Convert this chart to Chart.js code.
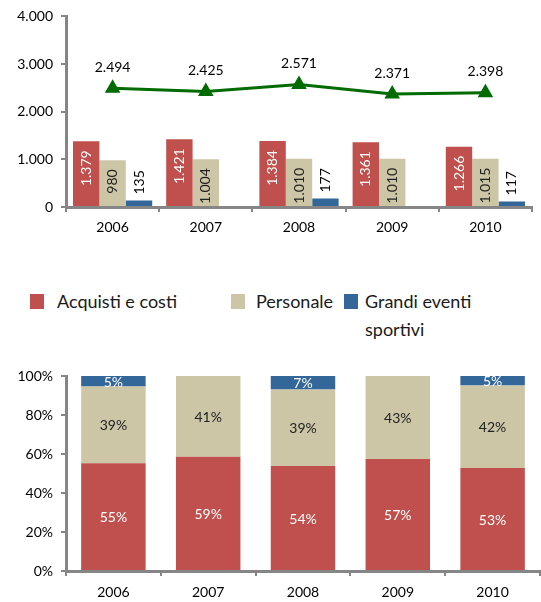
<!DOCTYPE html>
<html>
<head>
<meta charset="utf-8">
<script src="https://cdn.jsdelivr.net/npm/chart.js@4"></script>
<style>
  body { margin: 0; background: #fff; font-family: Lato, sans-serif; }
  #wrap { position: relative; width: 541px; height: 602px; overflow: hidden; }
  #alto { position: absolute; left: 0; top: 0; }
  #basso { position: absolute; left: 0; top: 355px; }
  .leg { position: absolute; font-size: 18px; color: #1a1a1a; line-height: 28px; top: 287px; }
  .sq { position: absolute; width: 14px; height: 15px; top: 294px; }
</style>
</head>
<body>
<div id="wrap">
  <canvas id="alto" width="541" height="245"></canvas>

  <div class="sq" style="left:30px;background:#C0504D"></div>
  <div class="leg" style="left:57px">Acquisti e costi</div>
  <div class="sq" style="left:231px;background:#CCC6A7"></div>
  <div class="leg" style="left:256px">Personale</div>
  <div class="sq" style="left:344px;background:#336699"></div>
  <div class="leg" style="left:365px">Grandi eventi<br>sportivi</div>

  <canvas id="basso" width="541" height="247"></canvas>
</div>

<script>
// dati (milioni)
const anni = ["2006", "2007", "2008", "2009", "2010"];
const acquisti = [1379, 1421, 1384, 1361, 1266];
const personale = [980, 1004, 1010, 1010, 1015];
const grandiEventi = [135, null, 177, null, 117];
const totale = [2494, 2425, 2571, 2371, 2398];

// quote percentuali (grafico 100%)
const quotaAcquisti = [55.3, 58.6, 53.8, 57.4, 52.8];
const quotaPersonale = [39.3, 41.4, 39.3, 42.6, 42.3];
const quotaEventi = [5.4, 0, 6.9, 0, 4.9];

const tickAlto = [0, 1000, 2000, 3000, 4000];

const ROSSO = "#C0504D";
const SABBIA = "#CCC6A7";
const BLU = "#336699";
const VERDE = "#006B00";
const GRIGIO = "#868686";

function migliaia(v) {
  return String(v).replace(/\B(?=(\d{3})+(?!\d))/g, ".");
}

// plugin per le etichette sui dati
const etichette = {
  id: "etichette",
  afterDatasetsDraw(chart) {
    const ctx = chart.ctx;
    chart.data.datasets.forEach((ds, i) => {
      const lbl = ds.lbl;
      if (!lbl) return;
      const meta = chart.getDatasetMeta(i);
      meta.data.forEach((el, j) => {
        const v = ds.data[j];
        if (v == null || v === 0) return;
        const testo = lbl.fmt(v);
        ctx.save();
        ctx.font = "14px Lato, sans-serif";
        ctx.fillStyle = lbl.color;
        ctx.textBaseline = "middle";
        if (lbl.mode === "dentro") {
          ctx.translate(el.x, el.y + 9);
          ctx.rotate(-Math.PI / 2);
          ctx.textAlign = "right";
          ctx.fillText(testo, 0, 0);
        } else if (lbl.mode === "fuori") {
          ctx.translate(el.x, el.y - 6);
          ctx.rotate(-Math.PI / 2);
          ctx.textAlign = "left";
          ctx.fillText(testo, 0, 0);
        } else if (lbl.mode === "sopra") {
          ctx.textAlign = "center";
          ctx.fillText(testo, el.x, el.y - 21);
        } else {
          ctx.textAlign = "center";
          ctx.fillText(testo, el.x, (el.y + el.base) / 2 + 1);
        }
        ctx.restore();
      });
    });
  },
};

const fontTick = { family: "Lato, sans-serif", size: 14 };

// grafico in alto: barre + linea totale
new Chart(document.getElementById("alto"), {
  type: "bar",
  plugins: [etichette],
  data: {
    labels: anni,
    datasets: [
      {
        type: "line",
        label: "Totale",
        data: totale,
        borderColor: VERDE,
        backgroundColor: VERDE,
        borderWidth: 3,
        pointStyle: "triangle",
        pointRadius: 6,
        tension: 0,
        order: 0,
        lbl: { mode: "sopra", color: "#000", fmt: migliaia },
      },
      {
        label: "Acquisti e costi",
        data: acquisti,
        backgroundColor: ROSSO,
        order: 1,
        lbl: { mode: "dentro", color: "#fff", fmt: migliaia },
      },
      {
        label: "Personale",
        data: personale,
        backgroundColor: SABBIA,
        order: 1,
        lbl: { mode: "dentro", color: "#222", fmt: migliaia },
      },
      {
        label: "Grandi eventi sportivi",
        data: grandiEventi,
        backgroundColor: BLU,
        order: 1,
        lbl: { mode: "fuori", color: "#000", fmt: migliaia },
      },
    ],
  },
  options: {
    responsive: false,
    animation: false,
    categoryPercentage: 0.85,
    barPercentage: 1,
    layout: { padding: { left: 0, right: 1, top: 13, bottom: 0 } },
    plugins: { legend: { display: false }, tooltip: { enabled: false } },
    scales: {
      x: {
        grid: { drawOnChartArea: false, color: GRIGIO, lineWidth: 2, tickLength: 5 },
        border: { color: GRIGIO, width: 3 },
        ticks: { color: "#000", font: fontTick, padding: 7 },
        afterFit: (s) => { s.height = 38; },
      },
      y: {
        min: 0,
        max: 4000,
        afterBuildTicks: (s) => { s.ticks = tickAlto.map((v) => ({ value: v })); },
        grid: { drawOnChartArea: false, color: GRIGIO, lineWidth: 2, tickLength: 5 },
        border: { color: GRIGIO, width: 3 },
        ticks: { color: "#000", font: fontTick, padding: 8, callback: (v) => migliaia(v) },
        afterFit: (s) => { s.width = 66; },
      },
    },
  },
});

// grafico in basso: 100% in pila
const perc = (v) => Math.round(v) + "%";

new Chart(document.getElementById("basso"), {
  type: "bar",
  plugins: [etichette],
  data: {
    labels: anni,
    datasets: [
      {
        label: "Acquisti e costi",
        data: quotaAcquisti,
        backgroundColor: ROSSO,
        lbl: { mode: "centro", color: "#fff", fmt: perc },
      },
      {
        label: "Personale",
        data: quotaPersonale,
        backgroundColor: SABBIA,
        lbl: { mode: "centro", color: "#222", fmt: perc },
      },
      {
        label: "Grandi eventi sportivi",
        data: quotaEventi,
        backgroundColor: BLU,
        lbl: { mode: "centro", color: "#fff", fmt: perc },
      },
    ],
  },
  options: {
    responsive: false,
    animation: false,
    categoryPercentage: 0.68,
    barPercentage: 1,
    layout: { padding: { left: 0, right: 1, top: 21, bottom: 0 } },
    plugins: { legend: { display: false }, tooltip: { enabled: false } },
    scales: {
      x: {
        stacked: true,
        grid: { drawOnChartArea: false, color: GRIGIO, lineWidth: 2, tickLength: 5 },
        border: { color: GRIGIO, width: 3 },
        ticks: { color: "#000", font: fontTick, padding: 8 },
        afterFit: (s) => { s.height = 31; },
      },
      y: {
        stacked: true,
        min: 0,
        max: 100,
        ticks: { stepSize: 20, color: "#000", font: fontTick, padding: 8, callback: (v) => v + "%" },
        grid: { drawOnChartArea: false, color: GRIGIO, lineWidth: 2, tickLength: 5 },
        border: { color: GRIGIO, width: 3 },
        afterFit: (s) => { s.width = 66; },
      },
    },
  },
});
</script>
</body>
</html>
